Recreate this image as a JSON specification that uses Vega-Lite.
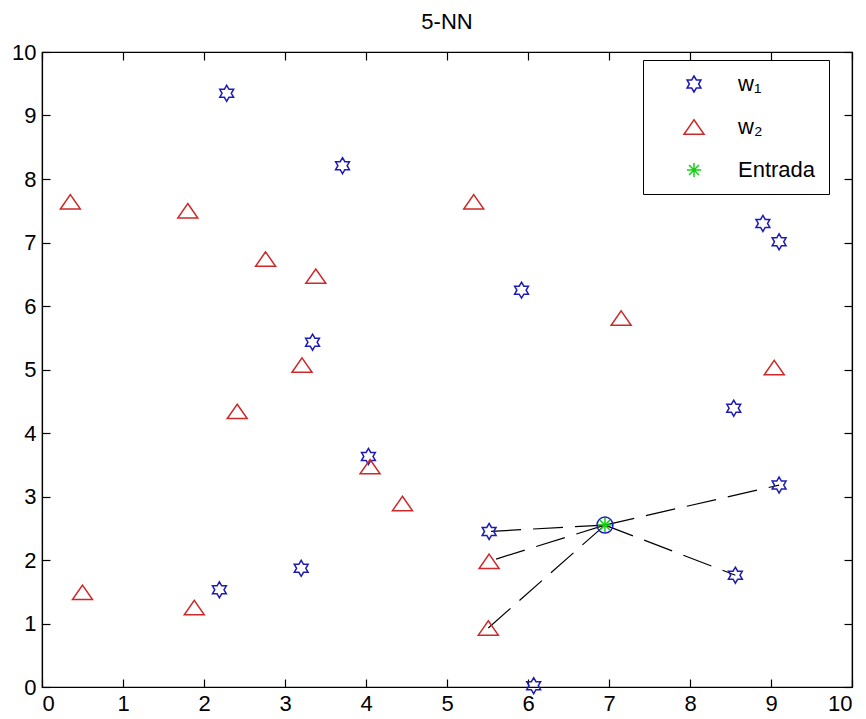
{
  "$schema": "https://vega.github.io/schema/vega-lite/v6.json",
  "width": 810,
  "height": 635,
  "autosize": {"type": "none"},
  "padding": {"left": 42, "top": 52, "right": 14, "bottom": 32},
  "background": "white",
  "title": {
    "text": "5-NN",
    "font": "Liberation Sans",
    "fontSize": 22,
    "fontWeight": "normal",
    "color": "black",
    "offset": 7
  },
  "config": {
    "view": {"stroke": "black", "strokeWidth": 1.2},
    "axis": {
      "grid": false,
      "title": null,
      "domainColor": "black",
      "domainWidth": 1.2,
      "tickColor": "black",
      "tickWidth": 1.2,
      "tickSize": -8,
      "labelColor": "black",
      "labelFont": "Liberation Sans",
      "labelFontSize": 22
    }
  },
  "datasets": {
    "puntos": [
      {"x": 2.28, "y": 9.35, "clase": "w₁"},
      {"x": 3.71, "y": 8.21, "clase": "w₁"},
      {"x": 3.34, "y": 5.43, "clase": "w₁"},
      {"x": 5.92, "y": 6.25, "clase": "w₁"},
      {"x": 8.90, "y": 7.30, "clase": "w₁"},
      {"x": 9.10, "y": 7.01, "clase": "w₁"},
      {"x": 8.54, "y": 4.39, "clase": "w₁"},
      {"x": 4.03, "y": 3.63, "clase": "w₁"},
      {"x": 2.19, "y": 1.53, "clase": "w₁"},
      {"x": 3.20, "y": 1.87, "clase": "w₁"},
      {"x": 5.52, "y": 2.45, "clase": "w₁"},
      {"x": 8.56, "y": 1.76, "clase": "w₁"},
      {"x": 9.10, "y": 3.18, "clase": "w₁"},
      {"x": 6.07, "y": 0.02, "clase": "w₁"},
      {"x": 0.35, "y": 7.64, "clase": "w₂"},
      {"x": 1.80, "y": 7.50, "clase": "w₂"},
      {"x": 2.76, "y": 6.74, "clase": "w₂"},
      {"x": 3.38, "y": 6.47, "clase": "w₂"},
      {"x": 5.33, "y": 7.64, "clase": "w₂"},
      {"x": 7.15, "y": 5.81, "clase": "w₂"},
      {"x": 9.04, "y": 5.03, "clase": "w₂"},
      {"x": 3.21, "y": 5.07, "clase": "w₂"},
      {"x": 2.41, "y": 4.34, "clase": "w₂"},
      {"x": 4.05, "y": 3.47, "clase": "w₂"},
      {"x": 4.45, "y": 2.89, "clase": "w₂"},
      {"x": 5.52, "y": 1.98, "clase": "w₂"},
      {"x": 5.51, "y": 0.93, "clase": "w₂"},
      {"x": 0.50, "y": 1.49, "clase": "w₂"},
      {"x": 1.88, "y": 1.25, "clase": "w₂"},
      {"x": 6.95, "y": 2.55, "clase": "Entrada"}
    ],
    "vecinos": [
      {"x": 6.95, "y": 2.55, "xv": 5.52, "yv": 2.45},
      {"x": 6.95, "y": 2.55, "xv": 5.52, "yv": 1.98},
      {"x": 6.95, "y": 2.55, "xv": 5.51, "yv": 0.93},
      {"x": 6.95, "y": 2.55, "xv": 9.10, "yv": 3.18},
      {"x": 6.95, "y": 2.55, "xv": 8.56, "yv": 1.76}
    ]
  },
  "layer": [
    {
      "data": {"name": "vecinos"},
      "mark": {"type": "rule", "color": "black", "strokeWidth": 1.2, "strokeDash": [30, 12]},
      "encoding": {
        "x": {
          "field": "x", "type": "quantitative",
          "scale": {"domain": [0, 10], "nice": false, "zero": false},
          "axis": {"orient": "top", "labels": false, "values": [0, 1, 2, 3, 4, 5, 6, 7, 8, 9, 10]}
        },
        "y": {
          "field": "y", "type": "quantitative",
          "scale": {"domain": [0, 10], "nice": false, "zero": false},
          "axis": {"orient": "right", "labels": false, "values": [0, 1, 2, 3, 4, 5, 6, 7, 8, 9, 10]}
        },
        "x2": {"field": "xv"},
        "y2": {"field": "yv"}
      }
    },
    {
      "data": {"name": "puntos"},
      "transform": [{"filter": "datum.clase === 'Entrada'"}],
      "mark": {"type": "point", "shape": "circle", "filled": false, "color": "#1c1cb4", "strokeWidth": 1.5, "size": 256, "opacity": 1},
      "encoding": {
        "x": {"field": "x", "type": "quantitative", "axis": null},
        "y": {"field": "y", "type": "quantitative", "axis": null}
      }
    },
    {
      "data": {"name": "puntos"},
      "mark": {"type": "point", "filled": false, "strokeWidth": 1.5, "size": 256, "opacity": 1},
      "encoding": {
        "x": {
          "field": "x", "type": "quantitative",
          "axis": {"orient": "bottom", "values": [0, 1, 2, 3, 4, 5, 6, 7, 8, 9, 10], "labelPadding": 14}
        },
        "y": {
          "field": "y", "type": "quantitative",
          "axis": {"orient": "left", "values": [0, 1, 2, 3, 4, 5, 6, 7, 8, 9, 10], "labelPadding": 14}
        },
        "color": {
          "field": "clase", "type": "nominal",
          "scale": {"domain": ["w₁", "w₂", "Entrada"], "range": ["#1c1cb4", "#cc2a2a", "#12d012"]},
          "legend": {
            "title": null,
            "orient": "none",
            "legendX": 601,
            "legendY": 8,
            "strokeColor": "black",
            "fillColor": "white",
            "padding": 13,
            "symbolOffset": 27,
            "labelOffset": 33,
            "rowPadding": 21,
            "symbolSize": 256,
            "symbolStrokeWidth": 1.5,
            "symbolOpacity": 1,
            "labelFont": "Liberation Sans",
            "labelFontSize": 22,
            "labelColor": "black"
          }
        },
        "shape": {
          "field": "clase", "type": "nominal",
          "scale": {
            "domain": ["w₁", "w₂", "Entrada"],
            "range": [
              "M0,-1L0.289,-0.5L0.866,-0.5L0.577,0L0.866,0.5L0.289,0.5L0,1L-0.289,0.5L-0.866,0.5L-0.577,0L-0.866,-0.5L-0.289,-0.5Z",
              "M0,-0.9L1.25,0.9L-1.25,0.9Z",
              "M-0.875,0L0.875,0M0,-0.875L0,0.875M-0.62,-0.62L0.62,0.62M-0.62,0.62L0.62,-0.62"
            ]
          },
          "legend": {
            "title": null,
            "orient": "none",
            "legendX": 601,
            "legendY": 8,
            "strokeColor": "black",
            "fillColor": "white",
            "padding": 13,
            "symbolOffset": 27,
            "labelOffset": 33,
            "rowPadding": 21,
            "symbolSize": 256,
            "symbolStrokeWidth": 1.5,
            "symbolOpacity": 1,
            "labelFont": "Liberation Sans",
            "labelFontSize": 22,
            "labelColor": "black"
          }
        }
      }
    }
  ],
  "resolve": {"axis": {"x": "independent", "y": "independent"}}
}
